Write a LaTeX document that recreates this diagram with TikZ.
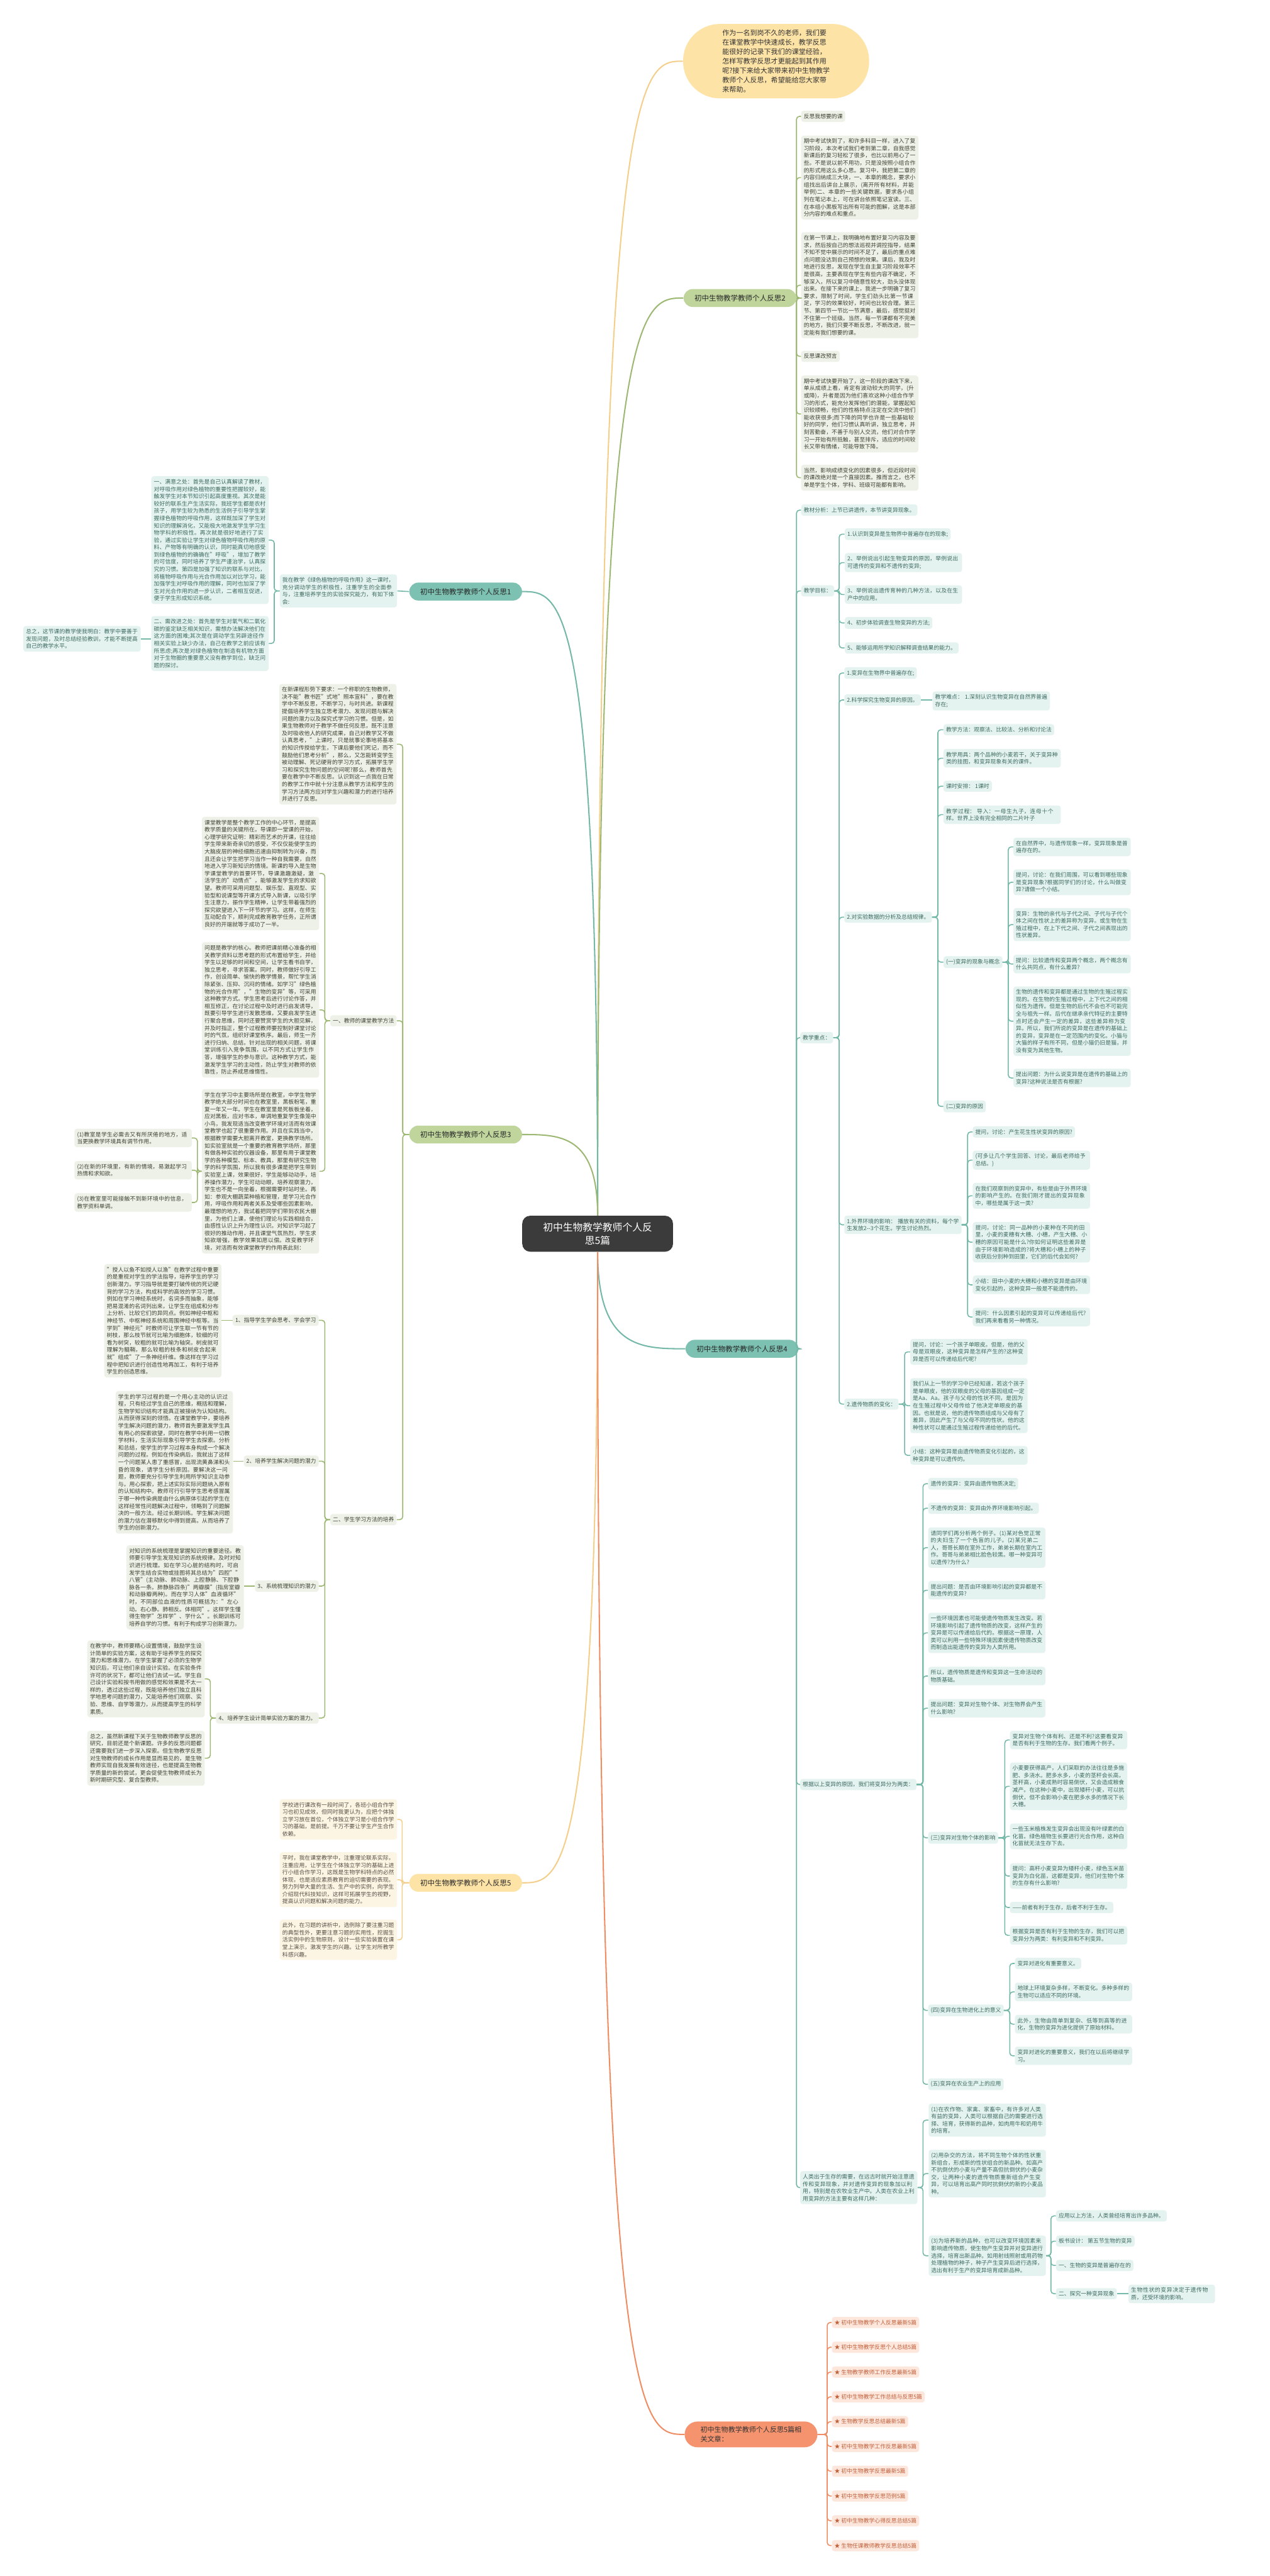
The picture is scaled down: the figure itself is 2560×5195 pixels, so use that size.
\documentclass[tikz,border=0pt]{standalone}
\usepackage{fontspec}
\setmainfont{Noto Sans CJK SC}
\XeTeXlinebreaklocale "zh"
\XeTeXlinebreakskip=0pt plus 1pt
\XeTeXinterchartokenstate=1
\XeTeXinterchartoks 0 1 = {\hskip0pt plus 0.1pt\relax}
\XeTeXinterchartoks 1 0 = {\hskip0pt plus 0.1pt\relax}
\XeTeXinterchartoks 1 1 = {\hskip0pt plus 0.1pt\relax}
\XeTeXinterchartoks 1 2 = {\hskip0pt plus 0.1pt\relax}
\XeTeXinterchartoks 1 3 = {\hskip0pt plus 0.1pt\relax}
\XeTeXinterchartoks 2 1 = {\hskip0pt plus 0.1pt\relax}
\XeTeXinterchartoks 3 1 = {\hskip0pt plus 0.1pt\relax}
\XeTeXinterchartoks 3 3 = {\hskip0pt plus 0.1pt\relax}
\XeTeXinterchartoks 0 3 = {\hskip0pt plus 0.1pt\relax}
\XeTeXinterchartoks 3 0 = {\hskip0pt plus 0.1pt\relax}
\XeTeXinterchartoks 3 2 = {\hskip0pt plus 0.1pt\relax}
\usetikzlibrary{calc}
\definecolor{gfill}{HTML}{EEF1E7}
\definecolor{gtext}{HTML}{3C4434}
\definecolor{gline}{HTML}{9DB872}
\definecolor{gnode}{HTML}{BFD59C}
\definecolor{tfill}{HTML}{E4F3EF}
\definecolor{ttext}{HTML}{3D6A60}
\definecolor{tline}{HTML}{74B8A8}
\definecolor{tnode}{HTML}{7CC1B1}
\definecolor{yfill}{HTML}{FDF5E4}
\definecolor{ytext}{HTML}{555046}
\definecolor{yline}{HTML}{F4CF8C}
\definecolor{ynode}{HTML}{FDE3A6}
\definecolor{ofill}{HTML}{FDE6DC}
\definecolor{otext}{HTML}{C0603A}
\definecolor{oline}{HTML}{EF8D65}
\definecolor{onode}{HTML}{F5936E}
\definecolor{cnode}{HTML}{3B3B3B}
\newcommand\fs{\fontsize{5.6pt}{7.35pt}\selectfont}
\newcommand\bfs{\fontsize{7.3pt}{9pt}\selectfont}
\begin{document}
\begin{tikzpicture}[x=0.5pt,y=-0.5pt,
  base/.style={inner xsep=2.6pt,inner ysep=3pt,rounded corners=2.5pt,font=\fs,align=left},
  wide/.style={text width=113pt},
  gb/.style={base,fill=gfill,text=gtext},
  tb/.style={base,fill=tfill,text=ttext},
  yb/.style={base,fill=yfill,text=ytext},
  ob/.style={base,fill=ofill,text=otext},
  onright/.style={anchor=north west},
  onleft/.style={anchor=north east},
  branch/.style={font=\bfs,inner xsep=11pt,minimum height=18pt,rounded corners=9pt,text=black!85},
  gl/.style={draw=gline,line width=1pt,rounded corners=3pt},
  tl/.style={draw=tline,line width=1pt,rounded corners=3pt},
  yl/.style={draw=yline,line width=1pt,rounded corners=3pt},
  ol/.style={draw=oline,line width=1pt,rounded corners=3pt},
  cl/.style={line width=1.3pt}]
\useasboundingbox (0,0) rectangle (2560,5195);
\fill[white] (0,0) rectangle (2560,5195);

% ---------------- central & intro ----------------
\node[fill=cnode,text=white,font=\fontsize{10pt}{13pt}\selectfont,align=center,inner xsep=20pt,inner ysep=7pt,rounded corners=8pt,minimum width=152pt] (c) at (1205,2488) {初中生物教学教师个人反\\思5篇};
\node[fill=ynode,text=black!80,font=\fontsize{7pt}{9.5pt}\selectfont,align=left,rounded corners=37pt,minimum width=187.5pt,minimum height=75pt,anchor=north west] (bub) at (1377,48) {作为一名到岗不久的老师，我们要\\在课堂教学中快速成长，教学反思\\能很好的记录下我们的课堂经验，\\怎样写教学反思才更能起到其作用\\呢?接下来给大家带来初中生物教学\\教师个人反思，希望能给您大家带\\来帮助。};

% ---------------- branch nodes ----------------
\node[branch,fill=gnode,anchor=west] (b2) at (1378,601) {初中生物教学教师个人反思2};
\node[branch,fill=tnode,anchor=east] (b1) at (1053,1193) {初中生物教学教师个人反思1};
\node[branch,fill=gnode,anchor=east] (b3) at (1053,2288) {初中生物教学教师个人反思3};
\node[branch,fill=tnode,anchor=west] (b4) at (1382,2720) {初中生物教学教师个人反思4};
\node[branch,fill=ynode,anchor=east] (b5) at (1053,3797) {初中生物教学教师个人反思5};
\node[fill=onode,text=black!80,font=\fontsize{7pt}{9.5pt}\selectfont,align=left,inner xsep=16pt,inner ysep=5pt,rounded corners=13pt,anchor=north west,minimum height=26pt] (b6) at (1380,4883) {初中生物教学教师个人反思5篇相\\关文章：};

% central connectors
\draw[cl,draw=yline] (c.north) .. controls (c.north |- bub.west) and ($(c.north |- bub.west)!0.5!(bub.west)$) .. (bub.west);
\draw[cl,draw=gline] (c.north) .. controls (c.north |- b2.west) and ($(c.north |- b2.west)!0.5!(b2.west)$) .. (b2.west);
\draw[cl,draw=tline] (c.north) .. controls (c.north |- b1.east) and ($(c.north |- b1.east)!0.5!(b1.east)$) .. (b1.east);
\draw[cl,draw=gline] (c.north) .. controls (c.north |- b3.east) and ($(c.north |- b3.east)!0.5!(b3.east)$) .. (b3.east);
\draw[cl,draw=tline] (c.south) .. controls (c.south |- b4.west) and ($(c.south |- b4.west)!0.5!(b4.west)$) .. (b4.west);
\draw[cl,draw=yline] (c.south) .. controls (c.south |- b5.east) and ($(c.south |- b5.east)!0.5!(b5.east)$) .. (b5.east);
\draw[cl,draw=oline] (c.south) .. controls (c.south |- b6.west) and ($(c.south |- b6.west)!0.5!(b6.west)$) .. (b6.west);

% ---------------- branch 2 ----------------
\node[gb,onright] (b2a) at (1615,223) {反思我想要的课};
\node[gb,onright,wide] (b2b) at (1615,273) {期中考试快到了，和许多科目一样，进入了复习阶段，本次考试我们考到第二章，自我感觉新课后的复习轻松了很多，也比以前用心了一些。不是说以前不用功，只是没按照小组合作的形式用这么多心思。复习中，我把第二章的内容归纳成三大块，一、本章的概念，要求小组找出后讲台上展示，(离开所有材料，并能举例)二、本章的一些关键数据，要求各小组列在笔记本上，可在讲台依照笔记宣读。三、在本组小黑板写出所有可能的图解，这是本部分内容的难点和重点。};
\node[gb,onright,wide] (b2c) at (1615,468) {在第一节课上，我明确地布置好复习内容及要求，然后按自己的想法巡视并调控指导，结果不知不觉中展示的时间不足了，最后的重点难点问题没达到自己预想的效果。课后，我及时地进行反思，发现在学生自主复习阶段效率不是很高，主要表现在学生有些内容不确定，不够深入，所以复习中随意性较大，劲头没体现出来。在接下来的课上，我进一步明确了复习要求，限制了时间，学生们劲头比第一节课足，学习的效果较好，时间也比较合理。第三节、第四节一节比一节满意，最后，感觉挺对不住第一个班级。当然，每一节课都有不完美的地方，我们只要不断反思，不断改进，就一定能有我们想要的课。};
\node[gb,onright] (b2d) at (1615,707) {反思课改预言};
\node[gb,onright,wide] (b2e) at (1615,757) {期中考试快要开始了，这一阶段的课改下来，单从成绩上看，肯定有波动较大的同学，(升或降)，升者是因为他们喜欢这种小组合作学习的形式，能充分发挥他们的潜能，掌握起知识较顺畅，他们的性格特点注定在交流中他们能收获很多;而下降的同学也许是一些基础较好的同学，他们习惯认真听讲，独立思考，并刻苦勤奋，不善于与别人交流，他们对合作学习一开始有所抵触，甚至排斥，适应的时间较长又带有情绪，可能导致下降。};
\node[gb,onright,wide] (b2f) at (1615,937) {当然，影响成绩变化的因素很多，但近段时间的课改绝对是一个直接因素。推而言之，也不单是学生个体，学科、班级可能都有影响。};
\coordinate (k2) at (1606,0);
\foreach \n in {b2a,b2b,b2c,b2d,b2e,b2f} \draw[gl] (b2.east) -- (b2.east -| k2) |- (\n.west);

% ---------------- branch 1 ----------------
\node[tb,onleft,wide] (b1a) at (801,1158) {我在教学《绿色植物的呼吸作用》这一课时，充分调动学生的积极性，注重学生的全面参与，注重培养学生的实验探究能力，有如下体会:};
\node[tb,onleft,wide] (b1b) at (542,960) {一、满意之处：首先是自己认真解读了教材，对呼吸作用对绿色植物的重要性把握较好，能触发学生对本节知识引起高度重视。其次是能较好的联系生产生活实际，我班学生都是农村孩子，用学生较为熟悉的生活例子引导学生掌握绿色植物的呼吸作用，这样既加深了学生对知识的理解消化，又能极大地激发学生学习生物学科的积极性。再次就是很好地进行了实验，通过实验让学生对绿色植物呼吸作用的原料、产物等有明确的认识，同时能真切地感受到绿色植物的的确确在"呼吸"，增加了教学的可信度，同时培养了学生严谨治学，认真探究的习惯。第四是加强了知识的联系与对比，将植物呼吸作用与光合作用加以对比学习，能加强学生对呼吸作用的理解，同时也加深了学生对光合作用的进一步认识，二者相互促进，便于学生形成知识系统。};
\node[tb,onleft,wide] (b1c) at (542,1242) {二、需改进之处：首先是学生对氧气和二氧化碳的鉴定缺乏相关知识，需想办法解决他们在这方面的困难;其次是在调动学生另辟途径作相关实验上缺少办法，自己在教学之前应该有所思虑;再次是对绿色植物在制造有机物方面对于生物圈的重要意义没有教学到位，缺乏问题的探讨。};
\node[tb,onleft,wide] (b1d) at (284,1262) {总之，这节课的教学使我明白：教学中要善于发现问题，及时总结经验教训，才能不断提高自己的教学水平。};
\draw[tl] (b1.west) -- (b1a.east);
\coordinate (k1) at (553,0);
\foreach \n in {b1b,b1c} \draw[tl] (b1a.west) -- (b1a.west -| k1) |- (\n.east);
\draw[tl] (b1c.west |- b1d.east) -- (b1d.east);

% ---------------- branch 3 ----------------
\node[gb,onleft,wide] (b3a) at (800,1379) {在新课程形势下要求：一个称职的生物教师，决不能"教书匠"式地"照本宣科"，要在教学中不断反思，不断学习，与时共进。新课程提倡培养学生独立思考潜力、发现问题与解决问题的潜力以及探究式学习的习惯。但是，如果生物教师对于教学不做任何反思，既不注意及时吸收他人的研究成果，自己对教学又不做认真思考，"上课时，只是就事论事地将基本的知识传授给学生，下课后要他们死记，而不鼓励他们思考分析"，那么，又怎能转变学生被动理解、死记硬背的学习方式，拓展学生学习和探究生物问题的空间呢?那么，教师首先要在教学中不断反思。认识到这一点我在日常的教学工作中就十分注意从教学方法和学生的学习方法两方应对学生兴趣和潜力的进行培养并进行了反思。};
\node[gb,onleft] (b3b) at (800,2047) {一、教师的课堂教学方法};
\node[gb,onleft] (b3c) at (800,3053) {二、学生学习方法的培养};
\coordinate (k3) at (812,0);
\foreach \n in {b3a,b3b,b3c} \draw[gl] (b3.west) -- (b3.west -| k3) |- (\n.east);

\node[gb,onleft,wide] (b3b1) at (644,1647) {课堂教学是整个教学工作的中心环节，是提高教学质量的关键所在。导课即一堂课的开始，心理学研究证明：精彩而艺术的开课，往往给学生带来新奇亲切的感受，不仅仅能使学生的大脑皮层的神经细胞迅速由抑制转为兴奋，而且还会让学生把学习当作一种自我需要，自然地进入学习新知识的情境。新课的导入是生物学课堂教学的首要环节，导课激趣激疑，激活学生的"动情点"，能够激发学生的求知欲望。教师可采用问题型、娱乐型、直观型、实验型和说课型等开课方式导入新课，以吸引学生注意力，振作学生精神，让学生带着强烈的探究欲望进入下一环节的学习。这样，在师生互动配合下，顺利完成教育教学任务，正所谓良好的开端就等于成功了一半。};
\node[gb,onleft,wide] (b3b2) at (644,1900) {问题是教学的核心。教师把课前精心准备的相关教学资料以思考题的形式布置给学生，并给学生以足够的时间和空间，让学生看书自学，独立思考，寻求答案。同时，教师做好引导工作，创设简单、愉快的教学情景，帮忙学生消除紧张、压抑、沉闷的情绪。如学习"绿色植物的光合作用"，"生物的变异"等，可采用这种教学方式。学生思考后进行讨论作答，并相互修正，在讨论过程中及时进行启发诱导，既要引导学生进行发散思维，又要启发学生进行聚合思维，同时还要赞赏学生的大胆见解，并及时指正，整个过程教师要控制好课堂讨论时的气氛，组织好课堂秩序。最后，师生一齐进行归纳、总结。针对出现的相关问题，将课堂训练引入竞争氛围，以不同方式让学生作答，增强学生的参与意识。这种教学方式，能激发学生学习的主动性，防止学生对教师的依靠性，防止养成思维惰性。};
\node[gb,onleft,wide] (b3b3) at (644,2196) {学生在学习中主要场所是在教室，中学生物学教学绝大部分时间也在教室里，黑板粉笔，重复一年又一年。学生在教室里是死板板坐着，应对黑板，应对书本，单调地重复学生像笼中小鸟，我发现适当改变教学环境对活而有效课堂教学也起了很重要作用。并且在实践当中，根据教学需要大胆离开教室，更换教学场所。如实验室就是一个重要的教育教学场所，那里有做各种实验的仪器设备，那里有用于课堂教学的各种模型、标本、教具，那里有研究生物学的科学氛围，所以我有很多课是把学生带到实验室上课，效果很好，学生能够动动手，培养操作潜力，学生可动动眼，培养观察潜力，学生也不是一向坐着，根据需要时站时坐。再如：参观大棚蔬菜种植和管理，是学习光合作用，呼吸作用和两者关系及受哪些因素影响，最理想的地方，我试着把同学们带到农民大棚里，为他们上课，使他们理论与实践相结合，由感性认识上升为理性认识。对知识学习起了很好的推动作用，并且课堂气氛热烈，学生求知欲增强，教学效果如愿以偿。改变教学环境，对活而有效课堂教学的作用表此刻：};
\coordinate (k3b) at (655,0);
\foreach \n in {b3b1,b3b2,b3b3} \draw[gl] (b3b.west) -- (b3b.west -| k3b) |- (\n.east);

\node[gb,onleft,wide] (e1) at (387,2276) {(1)教室是学生必需去又有所厌倦的地方，适当更换教学环境具有调节作用。};
\node[gb,onleft,wide] (e2) at (387,2341) {(2)在新的环境里，有新的情境，易激起学习热情和求知欲。};
\node[gb,onleft,wide] (e3) at (387,2406) {(3)在教室里可能接触不到新环境中的信息，教学资料单调。};
\coordinate (k3e) at (398,0);
\foreach \n in {e1,e2,e3} \draw[gl] (b3b3.west) -- (b3b3.west -| k3e) |- (\n.east);

\node[gb,onleft] (c1) at (643,2651) {1、指导学生学会思考、学会学习};
\node[gb,onleft] (c2) at (643,2935) {2、培养学生解决问题的潜力};
\node[gb,onleft] (c3) at (643,3187) {3、系统梳理知识的潜力};
\node[gb,onleft] (c4) at (643,3453) {4、培养学生设计简单实验方案的潜力。};
\coordinate (k3c) at (655,0);
\foreach \n in {c1,c2,c3,c4} \draw[gl] (b3c.west) -- (b3c.west -| k3c) |- (\n.east);

\node[gb,onleft,wide] (c1a) at (447,2549) {"授人以鱼不如授人以渔"在教学过程中重要的是重视对学生的学法指导，培养学生的学习创新潜力。学习指导就是要打破传统的死记硬背的学习方法，构成科学的高效的学习习惯。例如在学习神经系统时，名词多而抽象，能够把易混淆的名词列出来，让学生在组成和分布上分析、比较它们的异同点。例如神经中枢和神经节、中枢神经系统和周围神经中枢等。当学到"神经元"时教师可让学生取一节有节的树枝，那么枝节就可比喻为细胞体，较细的可看为树突，较粗的就可比喻为轴突。树皮就可理解为髓鞘，那么较粗的枝条和树皮合起来就"组成"了一条神经纤维。像这样在学习过程中把知识进行创造性地再加工，有利于培养学生的创造思维。};
\node[gb,onleft,wide] (c2a) at (470,2805) {学生的学习过程的是一个用心主动的认识过程，只有经过学生自己的思维，概括和理解，生物学知识结构才能真正被接纳为认知结构。从而获得深刻的领悟。在课堂教学中，要培养学生解决问题的潜力，教师首先要激发学生具有用心的探索欲望，同时在教学中利用一切教学材料，生活实际现象引导学生去探索。分析和总结，使学生的学习过程本身构成一个解决问题的过程。例如在传染病后，我就出了这样一个问题某人患了重感冒，出现流黄鼻涕和头昏的现象，请学生分析原因。要解决这一问题，教师要充分引导学生利用所学知识主动参与。用心探索，把上述实际实际问题纳入原有的认知结构中。教师可行引导学生思考感冒属于哪一种传染病是由什么病原体引起的学生在这样经常性问题解决过程中，领略到了问题解决的一般方法。经过长期训练。学生解决问题的潜力估在潜移默化中得到提高。从而培养了学生的创新潜力。};
\node[gb,onleft,wide] (c3a) at (492,3116) {对知识的系统梳理是掌握知识的重要途径。教师要引导学生发现知识的系统规律。及时对知识进行梳理。如在学习心脏的结构时，可启发学生结合实物或挂图将其总结为"四腔""八管"(主动脉、肺动脉、上腔静脉、下腔静脉各一条。肺静脉四条)"两瓣膜"(指房室瓣和动脉瓣两种)。而在学习人体"血液循环"时，不同部位血液的性质可概括为："左心动。右心静。肺相反。体相同"。这样学生懂得生物学"怎样学"、学什么"。长期训练可培养自学的习惯。有利于构成学习创新潜力。};
\node[gb,onleft,wide] (c4a) at (413,3308) {在教学中，教师要精心设置情境，鼓励学生设计简单的实验方案，这有助于培养学生的探究潜力和思维潜力。在学生掌握了必须的生物学知识后，可让他们亲自设计实验。在实验条件许可的状况下，都可让他们去试一试。学生自己设计实验和按书用做的感觉和效果是不太一样的，透过这些过程，既能培养他们独立且科学地思考问题的潜力，又能培养他们观察、实验、思维、自学等潜力，从而提高学生的科学素质。};
\node[gb,onleft,wide] (c4b) at (413,3490) {总之，虽然新课程下关于生物教师教学反思的研究，目前还是个新课题。许多的反思问题都还需要我们进一步深入探索。但生物教学反思对生物教师的成长作用是显而易见的，是生物教师实现自我发展有效途径，也是提高生物教学质量的新的尝试，更会促使生物教师成长为新时期研究型、复合型教师。};
\draw[gl] (c1.west) -- (c1.west -| c1a.east);
\draw[gl] (c2.west) -- (c2.west -| c2a.east);
\draw[gl] (c3.west) -- (c3.west -| c3a.east);
\coordinate (k3d) at (424,0);
\foreach \n in {c4a,c4b} \draw[gl] (c4.west) -- (c4.west -| k3d) |- (\n.east);

% ---------------- branch 5 ----------------
\node[yb,onleft,wide] (y1) at (801,3628) {学校进行课改有一段时间了，各班小组合作学习也初见成效，但同时我更认为，应把个体独立学习放在首位，个体独立学习是小组合作学习的基础，是前提。千万不要让学生产生合作依赖。};
\node[yb,onleft,wide] (y2) at (801,3735) {平时，我在课堂教学中，注重理论联系实际，注重应用，让学生在个体独立学习的基础上进行小组合作学习，这既是生物学科特点的必然体现，也是适应素质教育的迫切需要的表现。努力列举大量的生活、生产中的实例，向学生介绍现代科技知识，这样可拓展学生的视野，提高认识问题和解决问题的能力。};
\node[yb,onleft,wide] (y3) at (801,3871) {此外，在习题的讲析中，选例除了要注重习题的典型性外，更要注意习题的实用性，挖掘生活实例中的生物原则，设计一些实验装置在课堂上演示，激发学生的兴趣。让学生对所教学科感兴趣。};
\coordinate (k5) at (811,0);
\foreach \n in {y1,y2,y3} \draw[yl] (b5.west) -- (b5.west -| k5) |- (\n.east);

% ---------------- branch 4 ----------------
\node[tb,onright] (t1) at (1615,1017) {教材分析：上节已讲遗传，本节讲变异现象。};
\node[tb,onright] (t2) at (1615,1180) {教学目标：};
\node[tb,onright] (t3) at (1613,2081) {教学重点：};
\node[tb,onright] (t4) at (1613,3587) {根据以上变异的原因，我们将变异分为两类：};
\node[tb,onright,wide] (t5) at (1613,4378) {人类出于生存的需要，在远古时就开始注意遗传和变异现象，并对遗传变异的现象加以利用，特别是在农牧业生产中。人类在农业上利用变异的方法主要有这样几种：};
\coordinate (k4) at (1606,0);
\foreach \n in {t1,t2,t3,t4,t5} \draw[tl] (b4.east) -- (b4.east -| k4) |- (\n.west);

% 教学目标
\node[tb,onright] (g1) at (1703,1065) {1.认识到变异是生物界中普遍存在的现象;};
\node[tb,onright,wide] (g2) at (1703,1115) {2、举例说出引起生物变异的原因，举例说出可遗传的变异和不遗传的变异;};
\node[tb,onright,wide] (g3) at (1703,1180) {3、举例说出遗传育种的几种方法，以及在生产中的应用。};
\node[tb,onright] (g4) at (1703,1244) {4、初步体验调查生物变异的方法;};
\node[tb,onright] (g5) at (1703,1295) {5、能够运用所学知识解释调查结果的能力。};
\coordinate (k4g) at (1692,0);
\foreach \n in {g1,g2,g3,g4,g5} \draw[tl] (t2.east) -- (t2.east -| k4g) |- (\n.west);

% 教学重点
\node[tb,onright] (z1) at (1702,1345) {1.变异在生物界中普遍存在;};
\node[tb,onright] (z2) at (1702,1400) {2.科学探究生物变异的原因。};
\node[tb,onright] (z3) at (1702,1838) {2.对实验数据的分析及总结规律。};
\node[tb,onright,wide] (z4) at (1702,2451) {1.外界环境的影响： 播放有关的资料，每个学生发放2-{}-3个花生。学生讨论热烈。};
\node[tb,onright] (z5) at (1702,2820) {2.遗传物质的变化：};
\coordinate (k4z) at (1692,0);
\foreach \n in {z1,z2,z3,z4,z5} \draw[tl] (t3.east) -- (t3.east -| k4z) |- (\n.west);

\node[tb,onright,wide] (z2a) at (1880,1394) {教学难点： 1.深刻认识生物变异在自然界普遍存在;};
\draw[tl] (z2.east) -- (z2.east -| z2a.west);

\node[tb,onright] (m1) at (1902,1460) {教学方法：观察法、比较法、分析和讨论法};
\node[tb,onright,wide] (m2) at (1902,1510) {教学用具：两个品种的小麦若干，关于变异种类的挂图，和变异现象有关的课件。};
\node[tb,onright] (m3) at (1902,1574) {课时安排： 1课时};
\node[tb,onright,wide] (m4) at (1902,1624) {教学过程： 导入：一母生九子，连母十个样。世界上没有完全相同的二片叶子};
\node[tb,onright] (m5) at (1902,1928) {(一)变异的现象与概念};
\node[tb,onright] (m6) at (1902,2219) {(二)变异的原因};
\coordinate (k4m) at (1891,0);
\foreach \n in {m1,m2,m3,m4,m5,m6} \draw[tl] (z3.east) -- (z3.east -| k4m) |- (\n.west);

\node[tb,onright,wide] (n1) at (2043,1689) {在自然界中，与遗传现象一样，变异现象是普遍存在的。};
\node[tb,onright,wide] (n2) at (2043,1753) {提问，讨论：在我们周围，可以看到哪些现象是变异现象?根据同学们的讨论，什么叫做变异?请做一个小结。};
\node[tb,onright,wide] (n3) at (2043,1831) {变异：生物的亲代与子代之间、子代与子代个体之间在性状上的差异称为变异。或生物在生殖过程中，在上下代之间、子代之间表现出的性状差异。};
\node[tb,onright,wide] (n4) at (2043,1925) {提问：比较遗传和变异两个概念，两个概念有什么共同点，有什么差异?};
\node[tb,onright,wide] (n5) at (2043,1989) {生物的遗传和变异都是通过生物的生殖过程实现的。在生物的生殖过程中，上下代之间的相似性为遗传。但是生物的后代不会也不可能完全与祖先一样。后代在继承亲代特征的主要特点时还会产生一定的差异，这些差异称为变异。所以，我们所说的变异是在遗传的基础上的变异，变异是在一定范围内的变化。小猫与大猫的样子有所不同，但是小猫仍旧是猫，并没有变为其他生物。};
\node[tb,onright,wide] (n6) at (2043,2155) {提出问题：为什么说变异是在遗传的基础上的变异?这种说法是否有根据?};
\coordinate (k4n) at (2033,0);
\foreach \n in {n1,n2,n3,n4,n5,n6} \draw[tl] (m5.east) -- (m5.east -| k4n) |- (\n.west);

\node[tb,onright] (f1) at (1961,2271) {提问，讨论：产生花生性状变异的原因?};
\node[tb,onright,wide] (f2) at (1961,2320) {(可多让几个学生回答、讨论，最后老师给予总结。)};
\node[tb,onright,wide] (f3) at (1961,2385) {在我们观察到的变异中，有些是由于外界环境的影响产生的。在我们刚才提出的变异现象中，哪些是属于这一类?};
\node[tb,onright,wide] (f4) at (1961,2464) {提问，讨论：同一品种的小麦种在不同的田里，小麦的麦穗有大穗、小穗，产生大穗、小穗的原因可能是什么?你如何证明这些差异是由于环境影响造成的?将大穗和小穗上的种子收获后分别种到田里，它们的后代会如何?};
\node[tb,onright,wide] (f5) at (1961,2572) {小结：田中小麦的大穗和小穗的变异是由环境变化引起的，这种变异一般是不能遗传的。};
\node[tb,onright,wide] (f6) at (1961,2637) {提问：什么因素引起的变异可以传递给后代?我们再来看看另一种情况。};
\coordinate (k4f) at (1951,0);
\foreach \n in {f1,f2,f3,f4,f5,f6} \draw[tl] (z4.east) -- (z4.east -| k4f) |- (\n.west);

\node[tb,onright,wide] (h1) at (1835,2700) {提问，讨论：一个孩子单眼皮。但是，他的父母是双眼皮，这种变异是怎样产生的?这种变异是否可以传递给后代呢?};
\node[tb,onright,wide] (h2) at (1835,2779) {我们从上一节的学习中已经知道，若这个孩子是单眼皮，他的双眼皮的父母的基因组成一定是Aa、Aa。孩子与父母的性状不同，是因为在生殖过程中父母传给了他决定单眼皮的基因。也就是说，他的遗传物质组成与父母有了差异，因此产生了与父母不同的性状。他的这种性状可以是通过生殖过程传递给他的后代。};
\node[tb,onright,wide] (h3) at (1835,2916) {小结：这种变异是由遗传物质变化引起的，这种变异是可以遗传的。};
\coordinate (k4h) at (1824,0);
\foreach \n in {h1,h2,h3} \draw[tl] (z5.east) -- (z5.east -| k4h) |- (\n.west);

% 两类
\node[tb,onright] (d1) at (1871,2980) {遗传的变异：变异由遗传物质决定;};
\node[tb,onright] (d2) at (1871,3030) {不遗传的变异：变异由外界环境影响引起。};
\node[tb,onright,wide] (d3) at (1871,3080) {请同学们再分析两个例子。(1)某对色觉正常的夫妇生了一个色盲的儿子。(2)某兄弟二人，哥哥长期在室外工作，弟弟长期在室内工作。哥哥与弟弟相比脸色较黑。哪一种变异可以遗传?为什么?};
\node[tb,onright,wide] (d4) at (1871,3188) {提出问题：是否由环境影响引起的变异都是不能遗传的变异?};
\node[tb,onright,wide] (d5) at (1871,3252) {一些环境因素也可能使遗传物质发生改变。若环境影响引起了遗传物质的改变，这样产生的变异是可以传递给后代的。根据这一原理，人类可以利用一些特殊环境因素使遗传物质改变而制造出能遗传的变异为人类所用。};
\node[tb,onright,wide] (d6) at (1871,3361) {所以，遗传物质是遗传和变异这一生命活动的物质基础。};
\node[tb,onright,wide] (d7) at (1871,3426) {提出问题：变异对生物个体、对生物界会产生什么影响?};
\node[tb,onright] (d8) at (1871,3694) {(三)变异对生物个体的影响};
\node[tb,onright] (d9) at (1871,4042) {(四)变异在生物进化上的意义};
\node[tb,onright] (d10) at (1871,4191) {(五)变异在农业生产上的应用};
\coordinate (k4d) at (1861,0);
\foreach \n in {d1,d2,d3,d4,d5,d6,d7,d8,d9,d10} \draw[tl] (t4.east) -- (t4.east -| k4d) |- (\n.west);

\node[tb,onright,wide] (p1) at (2036,3490) {变异对生物个体有利、还是不利?这要看变异是否有利于生物的生存。我们看两个例子。};
\node[tb,onright,wide] (p2) at (2036,3554) {小麦要获得高产，人们采取的办法往往是多施肥、多浇水。肥多水多，小麦的茎秆会长高，茎秆高，小麦成熟时容易倒伏，又会造成粮食减产。在这种小麦中，出现矮秆小麦，可以抗倒伏，但不会影响小麦在肥多水多的情况下长大穗。};
\node[tb,onright,wide] (p3) at (2036,3677) {一些玉米植株发生变异会出现没有叶绿素的白化苗。绿色植物生长要进行光合作用，这种白化苗就无法生存下去。};
\node[tb,onright,wide] (p4) at (2036,3757) {提问：高秆小麦变异为矮秆小麦，绿色玉米苗变异为白化苗，这都是变异，他们对生物个体的生存有什么影响?};
\node[tb,onright] (p5) at (2036,3835) {——前者有利于生存，后者不利于生存。};
\node[tb,onright,wide] (p6) at (2036,3884) {根据变异是否有利于生物的生存，我们可以把变异分为两类：有利变异和不利变异。};
\coordinate (k4p) at (2026,0);
\foreach \n in {p1,p2,p3,p4,p5,p6} \draw[tl] (d8.east) -- (d8.east -| k4p) |- (\n.west);

\node[tb,onright] (q1) at (2046,3948) {变异对进化有重要意义。};
\node[tb,onright,wide] (q2) at (2046,3998) {地球上环境复杂多样，不断变化。多种多样的生物可以适应不同的环境。};
\node[tb,onright,wide] (q3) at (2046,4063) {此外，生物由简单到复杂、低等到高等的进化，生物的变异为进化提供了原始材料。};
\node[tb,onright,wide] (q4) at (2046,4127) {变异对进化的重要意义，我们在以后将继续学习。};
\coordinate (k4q) at (2036,0);
\foreach \n in {q1,q2,q3,q4} \draw[tl] (d9.east) -- (d9.east -| k4q) |- (\n.west);

% 人类利用变异
\node[tb,onright,wide] (r1) at (1872,4242) {(1)在农作物、家禽、家畜中，有许多对人类有益的变异，人类可以根据自己的需要进行选择、培育，获得新的品种，如肉用牛和奶用牛的培育。};
\node[tb,onright,wide] (r2) at (1872,4335) {(2)用杂交的方法，将不同生物个体的性状重新组合，形成新的性状组合的新品种。如高产不抗倒伏的小麦与产量不高但抗倒伏的小麦杂交，让两种小麦的遗传物质重新组合产生变异，可以培育出高产同时抗倒伏的新的小麦品种。};
\node[tb,onright,wide] (r3) at (1872,4508) {(3)为培养新的品种，也可以改变环境因素来影响遗传物质，使生物产生变异并对变异进行选择，培育出新品种。如用射线照射或用药物处理植物的种子，种子产生变异后进行选择，选出有利于生产的变异培育成新品种。};
\coordinate (k4r) at (1861,0);
\foreach \n in {r1,r2,r3} \draw[tl] (t5.east) -- (t5.east -| k4r) |- (\n.west);

\node[tb,onright] (s1) at (2129,4457) {应用以上方法，人类曾经培育出许多品种。};
\node[tb,onright] (s2) at (2129,4508) {板书设计： 第五节生物的变异};
\node[tb,onright] (s3) at (2129,4557) {一、生物的变异是普遍存在的};
\node[tb,onright] (s4) at (2129,4614) {二、探究一种变异现象};
\coordinate (k4s) at (2119,0);
\foreach \n in {s1,s2,s3,s4} \draw[tl] (r3.east) -- (r3.east -| k4s) |- (\n.west);
\node[tb,onright,text width=82pt] (s4a) at (2275,4607) {生物性状的变异决定于遗传物质，还受环境的影响。};
\draw[tl] (s4.east) -- (s4.east -| s4a.west);

% ---------------- branch 6 ----------------
\foreach \i/\t in {0/初中生物教学个人反思最新5篇,1/初中生物教学反思个人总结5篇,2/生物教学教师工作反思最新5篇,3/初中生物教学工作总结与反思5篇,4/生物教学反思总结最新5篇,5/初中生物教学工作反思最新5篇,6/初中生物教学反思最新5篇,7/初中生物教学反思范例5篇,8/初中生物教学心得反思总结5篇,9/生物任课教师教学反思总结5篇}
{
  \node[ob,onright] (o\i) at (1677,4672+50*\i) {★ \t};
  \draw[ol] (b6.east) -- (b6.east -| 1668,0) |- (o\i.west);
}
\end{tikzpicture}
\end{document}
